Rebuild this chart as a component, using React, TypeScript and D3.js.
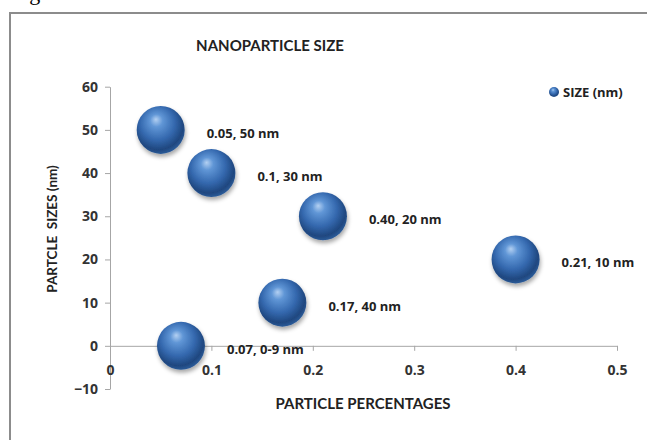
import * as React from 'react';
import { useEffect, useRef } from 'react';
import * as d3 from 'd3';

// Data
const percentages = [0.05, 0.1, 0.21, 0.4, 0.17, 0.07];
const sizes = [50, 40, 30, 20, 10, 0];
const pointLabels = ['0.05, 50 nm', '0.1, 30 nm', '0.40, 20 nm', '0.21, 10 nm', '0.17, 40 nm', '0.07, 0-9 nm'];
const xTicks = [0, 0.1, 0.2, 0.3, 0.4, 0.5];
const yTicks = [-10, 0, 10, 20, 30, 40, 50, 60];
const seriesName = 'SIZE (nm)';

const W = 647;
const H = 440;
const LATO = 'Lato, "Open Sans", sans-serif';
const OPEN = '"Open Sans", Lato, sans-serif';

const App: React.FC = () => {
  const svgRef = useRef<SVGSVGElement>(null);

  useEffect(() => {
    const svg = d3.select(svgRef.current);
    svg.selectAll('*').remove();

    const x = d3.scaleLinear().domain([0, 0.5]).range([110, 617]);
    const y = d3.scaleLinear().domain([-10, 60]).range([389, 86.7]);
    const r = 24;

    const defs = svg.append('defs');
    const grad = defs.append('radialGradient')
      .attr('id', 'ball')
      .attr('cx', '45%').attr('cy', '40%').attr('r', '60%')
      .attr('fx', '40%').attr('fy', '28%');
    grad.append('stop').attr('offset', '0%').attr('stop-color', '#b3d0f2');
    grad.append('stop').attr('offset', '22%').attr('stop-color', '#6096d6');
    grad.append('stop').attr('offset', '60%').attr('stop-color', '#3468ae');
    grad.append('stop').attr('offset', '88%').attr('stop-color', '#1f477f');
    grad.append('stop').attr('offset', '100%').attr('stop-color', '#2b5a97');

    const shadow = defs.append('filter').attr('id', 'shadow')
      .attr('x', '-30%').attr('y', '-30%').attr('width', '160%').attr('height', '170%');
    shadow.append('feDropShadow')
      .attr('dx', 1).attr('dy', 3).attr('stdDeviation', 2)
      .attr('flood-color', '#000').attr('flood-opacity', 0.35);

    svg.append('rect').attr('width', W).attr('height', H).attr('fill', '#fff');

    // cut-off caption above the frame, only the descender of the g shows
    svg.append('text')
      .attr('x', 11).attr('y', 0)
      .attr('font-family', '"Liberation Serif", serif')
      .attr('font-size', 22)
      .attr('fill', '#000')
      .text('Fig');

    // chart frame
    svg.append('rect')
      .attr('x', 10).attr('y', 13)
      .attr('width', 700).attr('height', 500)
      .attr('fill', '#fff')
      .attr('stroke', '#8c8c8c')
      .attr('stroke-width', 2);

    // title
    svg.append('text')
      .attr('x', 270).attr('y', 51)
      .attr('text-anchor', 'middle')
      .attr('font-family', LATO).attr('font-weight', 'bold').attr('font-size', 15)
      .attr('fill', '#222')
      .text('NANOPARTICLE SIZE');

    // y axis
    const yAxis = svg.append('g')
      .attr('transform', `translate(${x(0)},0)`)
      .call(d3.axisLeft(y).tickValues(yTicks).tickSize(5).tickSizeOuter(0).tickPadding(7));
    // x axis at y = 0
    const xAxis = svg.append('g')
      .attr('transform', `translate(0,${y(0)})`)
      .call(d3.axisBottom(x).tickValues(xTicks).tickSize(5).tickSizeOuter(0).tickPadding(14)
        .tickFormat(d => d3.format('')(+d)));

    [yAxis, xAxis].forEach(a => {
      a.select('.domain').attr('stroke', '#a6a6a6');
      a.selectAll('.tick line').attr('stroke', '#a6a6a6');
      a.selectAll('.tick text')
        .attr('font-family', OPEN).attr('font-weight', 'bold').attr('font-size', 14)
        .attr('fill', '#333');
    });

    // axis titles
    svg.append('text')
      .attr('transform', `translate(57,${229}) rotate(-90)`)
      .attr('text-anchor', 'middle')
      .attr('font-family', LATO).attr('font-weight', 'bold').attr('font-size', 13.5)
      .attr('fill', '#222')
      .attr('xml:space', 'preserve')
      .text('PARTCLE  SIZES (nm)');

    svg.append('text')
      .attr('x', 363).attr('y', 409)
      .attr('text-anchor', 'middle')
      .attr('font-family', LATO).attr('font-weight', 'bold').attr('font-size', 15)
      .attr('fill', '#222')
      .text('PARTICLE PERCENTAGES');

    // bubbles
    const pts = percentages.map((p, i) => ({ p, s: sizes[i], label: pointLabels[i] }));
    const g = svg.append('g');
    g.selectAll('circle')
      .data(pts)
      .enter().append('circle')
      .attr('cx', d => x(d.p))
      .attr('cy', d => y(d.s))
      .attr('r', r)
      .attr('fill', 'url(#ball)')
      .attr('filter', 'url(#shadow)');

    g.selectAll('text')
      .data(pts)
      .enter().append('text')
      .attr('x', d => x(d.p) + r + 22)
      .attr('y', d => y(d.s) + 8)
      .attr('font-family', OPEN).attr('font-weight', 'bold').attr('font-size', 13)
      .attr('fill', '#222')
      .text(d => d.label);

    // legend
    const legend = svg.append('g').attr('transform', 'translate(554,92)');
    legend.append('circle').attr('r', 5).attr('fill', 'url(#ball)');
    legend.append('text')
      .attr('x', 9).attr('y', 5)
      .attr('font-family', OPEN).attr('font-weight', 'bold').attr('font-size', 13)
      .attr('fill', '#222')
      .text(seriesName);
  }, []);

  return (
    <svg ref={svgRef} width={W} height={H} style={{ position: 'absolute', left: 0, top: 0, display: 'block' }}></svg>
  );
};

export default App;
